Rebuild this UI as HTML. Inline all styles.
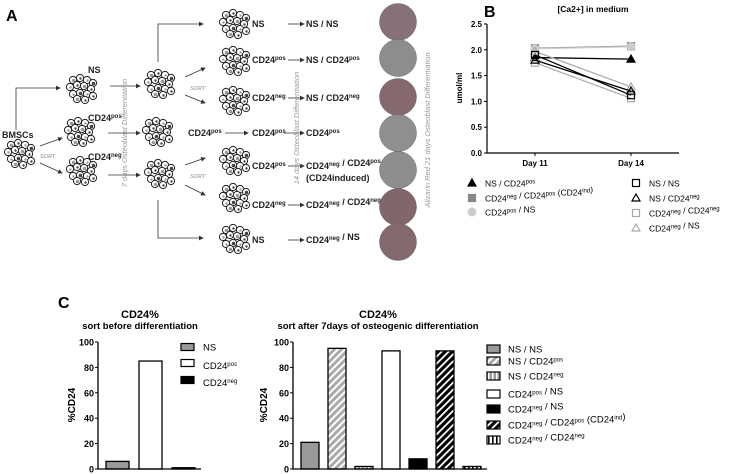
<!DOCTYPE html>
<html><head><meta charset="utf-8"><style>
html,body{margin:0;padding:0;background:#fff;}
svg{display:block;font-family:"Liberation Sans",Arial,sans-serif;}
</style></head><body>
<svg id="fig" width="741" height="474" viewBox="0 0 741 474" xmlns="http://www.w3.org/2000/svg">
<defs>
<marker id="ah" markerWidth="6" markerHeight="6" refX="5" refY="3" orient="auto"><path d="M0,0 L6,3 L0,6 z" fill="#333"/></marker>
<pattern id="hGrey" width="5" height="5" patternUnits="userSpaceOnUse" patternTransform="rotate(45)"><rect width="5" height="5" fill="#aaa"/><rect width="2" height="5" fill="#fff"/></pattern>
<pattern id="hBlack" width="5" height="5" patternUnits="userSpaceOnUse" patternTransform="rotate(45)"><rect width="5" height="5" fill="#000"/><rect width="1.8" height="5" fill="#fff"/></pattern>
<pattern id="vGrey" width="4" height="4" patternUnits="userSpaceOnUse"><rect width="4" height="4" fill="#999"/><rect width="1.5" height="4" fill="#fff"/></pattern>
<pattern id="vWhite" width="4" height="4" patternUnits="userSpaceOnUse"><rect width="4" height="4" fill="#fff"/><rect width="1.6" height="4" fill="#000"/></pattern>
</defs>
<g id="panelA"></g>
<g id="panelB"></g>
<g id="panelC"></g>
</svg>
<script>
const NS='http://www.w3.org/2000/svg';
function el(tag,attrs,parent,txt){const e=document.createElementNS(NS,tag);for(const k in attrs)e.setAttribute(k,attrs[k]);if(txt!==undefined)e.innerHTML=txt;parent.appendChild(e);return e;}
const A=document.getElementById('panelA');
const B=document.getElementById('panelB');
const C=document.getElementById('panelC');

/* ---------- Panel A ---------- */
let t=el('text',{x:6,y:21,'font-size':16,'font-weight':'bold'},A,'A');


const cellOffsets=[[-9,-8],[-2,-10],[5,-8],[11,-5],[-12,-1],[-5,-3],[2,-2],[9,1],[-9,6],[-2,5],[5,6],[11,8],[-5,11],[3,12]];
function cluster(cx,cy,name){
  const g=el('g',{},A);
  
  
  cellOffsets.forEach((o,i)=>{
    el('circle',{cx:cx+o[0],cy:cy+o[1],r:3.6,fill:'#fff',stroke:'#222','stroke-width':1},g);
    el('circle',{cx:cx+o[0]+0.5,cy:cy+o[1]+0.5,r:(i%3==0)?1.8:1.2,fill:(i%2)?'#444':'#999'},g);
  });
}
cluster(20,153,'bmsc-cluster');
cluster(82,88,'ns-cluster');cluster(80,131,'cd24pos-cluster');cluster(82,170,'cd24neg-cluster');
cluster(160,83,'mid-ns-cluster');cluster(158,131,'mid-cd24pos-cluster');cluster(160,173,'mid-cd24neg-cluster');
[23,60,100,160,197,238].forEach((y,i)=>cluster(235,y,'row-cluster-'+i));
function txt(x,y,s,name,opts){const o=Object.assign({x:x,y:y,'font-size':9,'font-weight':'bold',fill:'#222'},opts||{});const e=el('text',o,A,s);return e;}
const sup=(a)=>'<tspan dy="-3" font-size="6">'+a+'</tspan><tspan dy="3"></tspan>';
txt(2,138,'BMSCs','bmsc-label');
txt(88,73,'NS','ns-label');
txt(88,121,'CD24'+sup('pos'),'cd24pos-label');
txt(88,160,'CD24'+sup('neg'),'cd24neg-label');
txt(40,158,'SORT','sort-label-1',{'font-size':5.5,'font-style':'italic','font-weight':'normal',fill:'#888'});
txt(190,90,'SORT','sort-label-2',{'font-size':5.5,'font-style':'italic','font-weight':'normal',fill:'#888'});
txt(190,178,'SORT','sort-label-3',{'font-size':5.5,'font-style':'italic','font-weight':'normal',fill:'#888'});
function line(pts,name){const p=el('polyline',{points:pts,fill:'none',stroke:'#333','stroke-width':0.8,'marker-end':'url(#ah)'},A);}
line('16,130 16,88 60,88','arrow-bmsc-ns');
line('40,146 62,138','arrow-bmsc-pos');line('40,163 62,173','arrow-bmsc-neg');
line('110,86 140,86','arrow-ns-mid');line('108,133 140,133','arrow-pos-mid');line('108,175 140,175','arrow-neg-mid');
line('158,62 158,24 203,24','arrow-mid-ns');line('185,77 205,68','arrow-sort-pos');line('185,95 205,103','arrow-sort-neg');
line('225,133 248,133','arrow-pos-row');line('185,165 205,158','arrow-sort2-pos');line('185,185 205,195','arrow-sort2-neg');
line('158,200 158,238 203,238','arrow-mid-ns2');
txt(188,136,'CD24'+sup('pos'),'mid-cd24pos-text');
const rowY=[24,60,98,133,166,205,240];
const rowLab=['NS','CD24'+sup('pos'),'CD24'+sup('neg'),'CD24'+sup('pos'),'CD24'+sup('pos'),'CD24'+sup('neg'),'NS'];
const resLab=['NS / NS','NS / CD24'+sup('pos'),'NS / CD24'+sup('neg'),'CD24'+sup('pos'),'CD24'+sup('neg')+' / CD24'+sup('pos'),'CD24'+sup('neg')+' / CD24'+sup('neg'),'CD24'+sup('neg')+' / NS'];
rowY.forEach((y,i)=>{
  txt(252,y+3,rowLab[i],'row-label-'+i);
  line((i==3?284:288)+','+y+' 304,'+y,'result-arrow-'+i);
  txt(306,y+3,resLab[i],'result-label-'+i);
});
txt(306,181,'(CD24induced)','cd24induced-label');
const plateY=[22,58,97,133,170,207,242];
const plateC=['#86707a','#8d8d8d','#86696e','#8f8f8f','#8e8e8e','#81666b','#846a6f'];
plateY.forEach((y,i)=>{const c=el('circle',{cx:398,cy:y,r:18.5,fill:plateC[i],stroke:'#666','stroke-width':0.5},A);});
function vtext(x,y,s,name){const e=el('text',{x:0,y:0,transform:'translate('+x+','+y+') rotate(-90)','font-size':7.5,'font-style':'italic',fill:'#999','text-anchor':'middle'},A,s);}
vtext(127,133,'7 days Osteoblast Differentiation','label-7days');
vtext(299,128,'14 days Osteoblast Differentiation','label-14days');
vtext(430,130,'Alizarin Red  21 days Osteoblast Differentiation','label-21days');

/* ---------- Panel B ---------- */
const bDays=['Day 11','Day 14'];
const bTicks=[0,0.5,1.0,1.5,2.0,2.5];
const bNsPos=[1.85,1.82];
const bNegPosInd=[2.03,2.07];
const bPosNs=[2.02,2.06];
const bNsNs=[1.90,1.12];
const bNsNeg=[1.80,1.20];
const bNegNeg=[1.75,1.06];
const bNegNs=[1.97,1.28];
const bx0=487,bx1=679,by0=153,by1=24;
const bxs=(i)=>535+i*96;
const bys=(v)=>by0-(v/2.5)*(by0-by1);
t=el('text',{x:484,y:17,'font-size':16,'font-weight':'bold'},B,'B');

t=el('text',{x:593,y:12,'font-size':8.5,'font-weight':'bold','text-anchor':'middle'},B,'[Ca2+] in medium');

t=el('path',{d:'M'+bx0+','+by1+' V'+by0+' H'+bx1,fill:'none',stroke:'#000','stroke-width':1.2},B);

bTicks.forEach(v=>{
  t=el('line',{x1:bx0-3,x2:bx0,y1:bys(v),y2:bys(v),stroke:'#000'},B);
  
  t=el('text',{x:bx0-5,y:bys(v)+3,'font-size':8,'font-weight':'bold','text-anchor':'end'},B,v.toFixed(1));
  
});
bDays.forEach((d,i)=>{
  t=el('line',{x1:bxs(i),x2:bxs(i),y1:by0,y2:by0+3,stroke:'#000'},B);
  
  t=el('text',{x:bxs(i),y:by0+13,'font-size':8,'font-weight':'bold','text-anchor':'middle'},B,d);
  
});
t=el('text',{x:0,y:0,transform:'translate(462,88) rotate(-90)','font-size':8,'font-weight':'bold','text-anchor':'middle'},B,'umol/ml');

function marker(g,type,x,y,col,fill){
  if(type=='tri') return el('path',{d:'M'+x+','+(y-4)+' L'+(x+4)+','+(y+3)+' L'+(x-4)+','+(y+3)+' Z',fill:fill,stroke:col,'stroke-width':1.2},g);
  if(type=='sq') return el('rect',{x:x-3.5,y:y-3.5,width:7,height:7,fill:fill,stroke:col,'stroke-width':1.2},g);
  return el('circle',{cx:x,cy:y,r:4,fill:fill,stroke:col},g);
}
const series=[
 {d:bNsPos,t:'tri',c:'#000',f:'#000',n:'series-ns-cd24pos'},
 {d:bNegPosInd,t:'sq',c:'#888',f:'#888',n:'series-cd24neg-cd24pos-ind'},
 {d:bPosNs,t:'circ',c:'#ccc',f:'#ccc',n:'series-cd24pos-ns'},
 {d:bNegNeg,t:'sq',c:'#aaa',f:'none',n:'series-cd24neg-cd24neg'},
 {d:bNegNs,t:'tri',c:'#aaa',f:'none',n:'series-cd24neg-ns'},
 {d:bNsNs,t:'sq',c:'#000',f:'none',n:'series-ns-ns'},
 {d:bNsNeg,t:'tri',c:'#000',f:'none',n:'series-ns-cd24neg'}];
series.forEach(s=>{
  const g=el('g',{},B);
  
  el('polyline',{points:s.d.map((v,i)=>bxs(i)+','+bys(v)).join(' '),fill:'none',stroke:s.c,'stroke-width':1.3},g);
  s.d.forEach((v,i)=>{const m=marker(g,s.t,bxs(i),bys(v),s.c,s.f);});
});
const bLeg=[
 [472,183,'tri','#000','#000','NS / CD24'+sup('pos')],
 [472,198,'sq','#888','#888','CD24'+sup('neg')+' / CD24'+sup('pos')+' (CD24'+sup('ind')+')'],
 [472,212,'circ','#ccc','#ccc','CD24'+sup('pos')+'  / NS'],
 [636,183,'sq','#000','none','NS / NS'],
 [636,198,'tri','#000','none','NS / CD24'+sup('neg')],
 [636,213,'sq','#aaa','none','CD24'+sup('neg')+' / CD24'+sup('neg')],
 [636,228,'tri','#aaa','none','CD24'+sup('neg')+' / NS']];
bLeg.forEach((l,i)=>{
  const g=el('g',{},B);
  
  marker(g,l[2],l[0],l[1],l[3],l[4]);
  el('text',{x:l[0]+13,y:l[1]+3.5,'font-size':8.5},g,l[5]);
});

/* ---------- Panel C ---------- */
const cTicks=[0,20,40,60,80,100];
const c1Cats=['NS','CD24pos','CD24neg'];
const c1Vals=[6,85,1];
const c2Cats=['NS/NS','NS/CD24pos','NS/CD24neg','CD24pos/NS','CD24neg/NS','CD24neg/CD24pos(ind)','CD24neg/CD24neg'];
const c2Vals=[21,95,2,93,8,93,2];
const c1Fill=['#999','#fff','#000'];
const c2Fill=['#999','url(#hGrey)','url(#vGrey)','#fff','#000','url(#hBlack)','url(#vWhite)'];
const cy0=469,cy1=342;
const cys=(v)=>cy0-(v/100)*(cy0-cy1);
t=el('text',{x:58,y:308,'font-size':16,'font-weight':'bold'},C,'C');

function chart(ax,axEnd,x0,step,bw,cats,vals,fills,ylx,titleX,sub,nm){
  const g=el('g',{},C);
  
  t=el('text',{x:titleX,y:318,'font-size':11,'font-weight':'bold','text-anchor':'middle'},g,'CD24%');
  
  t=el('text',{x:titleX,y:329,'font-size':9.5,'font-weight':'bold','text-anchor':'middle'},g,sub);
  
  vals.forEach((v,i)=>{
    const r=el('rect',{x:x0+i*step,y:cys(v),width:bw,height:cy0-cys(v),fill:fills[i],stroke:'#000','stroke-width':1.3},g);
    
  });
  t=el('path',{d:'M'+ax+','+cy1+' V'+cy0+' H'+axEnd,fill:'none',stroke:'#000','stroke-width':1.3},g);
  
  cTicks.forEach(v=>{
    t=el('line',{x1:ax-3,x2:ax,y1:cys(v),y2:cys(v),stroke:'#000'},g);
    
    t=el('text',{x:ax-4,y:cys(v)+3.5,'font-size':9,'font-weight':'bold','text-anchor':'end'},g,v);
    
  });
  t=el('text',{x:0,y:0,transform:'translate('+ylx+',405) rotate(-90)','font-size':10,'font-weight':'bold','text-anchor':'middle'},g,'%CD24');
  
}
chart(98,201,106,33,23,c1Cats,c1Vals,c1Fill,75,140,'sort before differentiation','chart-before-differentiation');
chart(293,487,301,27,18,c2Cats,c2Vals,c2Fill,267,378,'sort after 7days of osteogenic differentiation','chart-after-differentiation');
const l1=['NS','CD24'+sup('pos'),'CD24'+sup('neg')];
const l1Box=[347,363,380];
l1.forEach((s,i)=>{const g=el('g',{},C);
  el('rect',{x:181,y:l1Box[i]-3.5,width:13,height:7,fill:c1Fill[i],stroke:'#000','stroke-width':1.2},g);
  el('text',{x:203,y:l1Box[i]+(i==0?3.5:6),'font-size':9.5},g,s);});
const l2=['NS / NS','NS / CD24'+sup('pos'),'NS / CD24'+sup('neg'),'CD24'+sup('pos')+' / NS','CD24'+sup('neg')+' / NS','CD24'+sup('neg')+' / CD24'+sup('pos')+' (CD24'+sup('ind')+')','CD24'+sup('neg')+' / CD24'+sup('neg')];
const l2y=[349,361,376,394,409,425,440];
l2.forEach((s,i)=>{const g=el('g',{},C);
  el('rect',{x:487,y:l2y[i]-4,width:13,height:8,fill:c2Fill[i],stroke:'#000','stroke-width':1.2},g);
  el('text',{x:508,y:l2y[i]+3.5,'font-size':9.5},g,s);});
</script>
</body></html>
